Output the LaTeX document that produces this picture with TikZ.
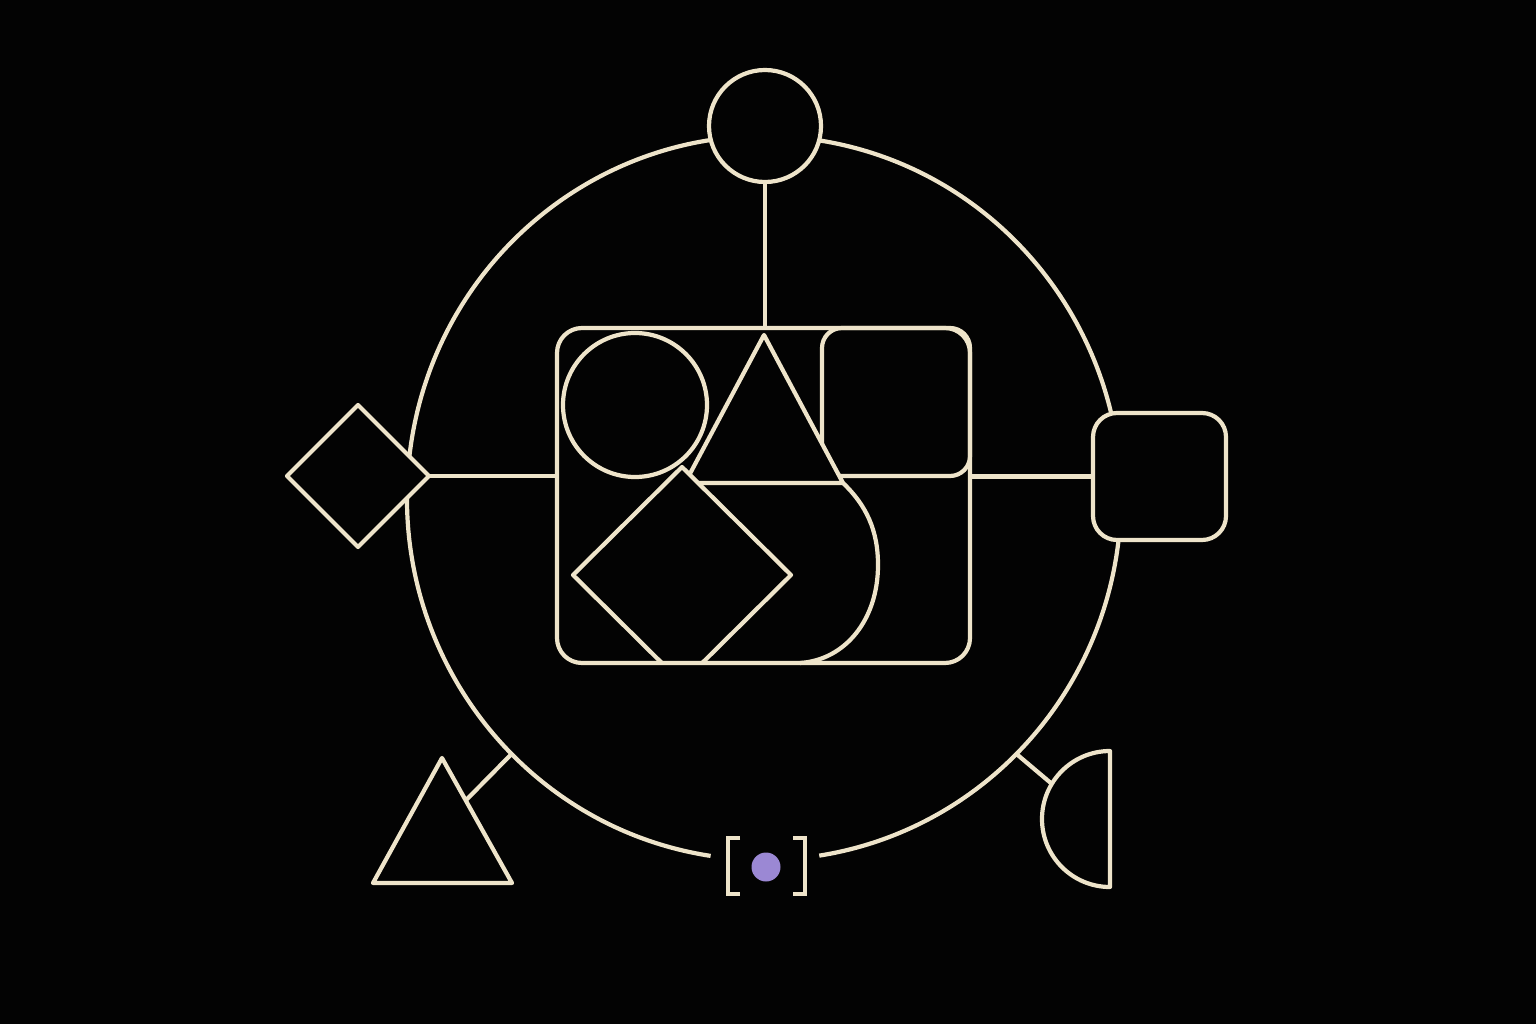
\documentclass[tikz,border=0pt]{standalone}
\usetikzlibrary{shapes.geometric,calc}
\definecolor{cream}{RGB}{238,228,202}
\definecolor{lav}{RGB}{155,136,212}
\definecolor{bg}{RGB}{3,3,3}
\begin{document}
\begin{tikzpicture}[x=1pt,y=-1pt, line join=round,
  wire/.style={draw=cream, line width=4.2pt},
  blk/.style={wire, fill=bg},
  bare/.style={inner sep=0pt, outer sep=0pt}]
\fill[bg] (0,0) rectangle (1536,1024);
\useasboundingbox (0,0) rectangle (1536,1024);
% big ring with a gap at the bottom
\coordinate (ec) at (764,498);
\draw[wire] (ec) ++(98.6:357 and 362) arc[start angle=98.6, end angle=441.1, x radius=357, y radius=362];
\coordinate (e135) at ($(ec)+(135:357 and 362)$);
\coordinate (e45) at ($(ec)+(45:357 and 362)$);
% central frame (border drawn last)
\node[bare, draw=none, minimum width=413pt, minimum height=335pt] (box) at (763.5,495.5) {};
% outer satellites
\node[blk, bare, circle, minimum size=112pt] (tc) at (765,126) {};
\node[blk, bare, diamond, aspect=1, minimum width=142pt, minimum height=142pt] (dl) at (358,476) {};
\node[blk, bare, rectangle, rounded corners=24pt, minimum width=133pt, minimum height=127pt] (rs) at (1159.5,476.5) {};
% connectors
\draw[wire] (tc.south) -- (tc.south |- box.north);
\draw[wire] (dl.east) -- (box.west |- dl.east);
\draw[wire] (box.east |- rs.west) -- (rs.west);
% bottom-left triangle
\coordinate (tA) at (442,758);
\coordinate (tL) at (373,883);
\coordinate (tR) at (512,883);
\coordinate (tlc) at (intersection of e135--ec and tA--tR);
\draw[wire] (e135) -- (tlc);
\draw[blk] (tA) -- (tL) -- (tR) -- cycle;
% bottom-right half disc
\coordinate (hc) at (1052,784);
\draw[wire] (e45) -- (hc);
\draw[blk] (1110,751) arc[start angle=270, end angle=90, radius=68] -- cycle;
% bracketed dot
\draw[wire, line width=3.8pt, line join=miter] (740,838) -- (728,838) -- (728,894) -- (740,894);
\draw[wire, line width=3.8pt, line join=miter] (793,838) -- (805,838) -- (805,894) -- (793,894);
\node[bare, circle, fill=lav, minimum size=29pt] (dot) at (766,867) {};
% inner composition
\node[wire, bare, rectangle, rounded corners=20pt, minimum width=148pt, minimum height=148pt] (sq) at (896,402) {};
\draw[blk] (764,335) coordinate (ta) -- (843,483) coordinate (tb) -- (685,483) coordinate (tc2) -- cycle;
\draw[wire] (tb) .. controls (866,505) and (878,530) .. (878,565) .. controls (878,620) and (845,660) .. (800,663);
\begin{scope}
\clip (559,330) rectangle (968,661);
\node[blk, bare, diamond, aspect=1, minimum width=218pt, minimum height=216pt] (dm) at (682,575) {};
\end{scope}
\node[blk, bare, circle, minimum size=144pt] (ci) at (635,405) {};
\draw[wire, rounded corners=25pt] (box.north west) rectangle (box.south east);
\end{tikzpicture}
\end{document}
